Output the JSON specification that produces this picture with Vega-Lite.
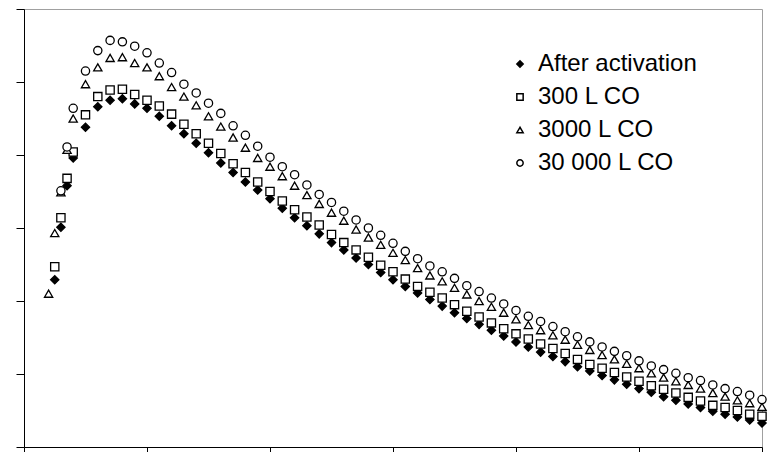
{
  "$schema": "https://vega.github.io/schema/vega-lite/v6.json",
  "width": 738,
  "height": 438,
  "autosize": {"type": "none"},
  "padding": {"left": 24, "top": 9, "right": 7, "bottom": 5},
  "background": "white",
  "config": {
    "view": {"stroke": "#a0a0a0", "strokeWidth": 1},
    "axis": {"labels": false, "grid": false, "title": null, "domainColor": "black", "domainWidth": 1, "tickColor": "black", "tickWidth": 1},
    "legend": {"labelFont": "Liberation Sans", "labelFontSize": 24, "labelColor": "black"}
  },
  "data": {"values": [
    {"series":"After activation","x":2.5,"y":2.29},{"series":"After activation","x":3,"y":3.01},{"series":"After activation","x":3.5,"y":3.58},{"series":"After activation","x":4,"y":3.96},{"series":"After activation","x":5,"y":4.38},{"series":"After activation","x":6,"y":4.66},{"series":"After activation","x":7,"y":4.75},{"series":"After activation","x":8,"y":4.77},{"series":"After activation","x":9,"y":4.70},{"series":"After activation","x":10,"y":4.64},{"series":"After activation","x":11,"y":4.53},{"series":"After activation","x":12,"y":4.40},{"series":"After activation","x":13,"y":4.29},{"series":"After activation","x":14,"y":4.16},{"series":"After activation","x":15,"y":4.03},{"series":"After activation","x":16,"y":3.89},{"series":"After activation","x":17,"y":3.76},{"series":"After activation","x":18,"y":3.63},{"series":"After activation","x":19,"y":3.52},{"series":"After activation","x":20,"y":3.40},{"series":"After activation","x":21,"y":3.27},{"series":"After activation","x":22,"y":3.14},{"series":"After activation","x":23,"y":3.03},{"series":"After activation","x":24,"y":2.92},{"series":"After activation","x":25,"y":2.80},{"series":"After activation","x":26,"y":2.70},{"series":"After activation","x":27,"y":2.59},{"series":"After activation","x":28,"y":2.50},{"series":"After activation","x":29,"y":2.39},{"series":"After activation","x":30,"y":2.29},{"series":"After activation","x":31,"y":2.20},{"series":"After activation","x":32,"y":2.11},{"series":"After activation","x":33,"y":2.02},{"series":"After activation","x":34,"y":1.93},{"series":"After activation","x":35,"y":1.84},{"series":"After activation","x":36,"y":1.76},{"series":"After activation","x":37,"y":1.68},{"series":"After activation","x":38,"y":1.60},{"series":"After activation","x":39,"y":1.52},{"series":"After activation","x":40,"y":1.44},{"series":"After activation","x":41,"y":1.37},{"series":"After activation","x":42,"y":1.30},{"series":"After activation","x":43,"y":1.24},{"series":"After activation","x":44,"y":1.17},{"series":"After activation","x":45,"y":1.10},{"series":"After activation","x":46,"y":1.04},{"series":"After activation","x":47,"y":0.98},{"series":"After activation","x":48,"y":0.92},{"series":"After activation","x":49,"y":0.86},{"series":"After activation","x":50,"y":0.80},{"series":"After activation","x":51,"y":0.75},{"series":"After activation","x":52,"y":0.69},{"series":"After activation","x":53,"y":0.64},{"series":"After activation","x":54,"y":0.59},{"series":"After activation","x":55,"y":0.54},{"series":"After activation","x":56,"y":0.49},{"series":"After activation","x":57,"y":0.45},{"series":"After activation","x":58,"y":0.41},{"series":"After activation","x":59,"y":0.37},{"series":"After activation","x":60,"y":0.33},
    {"series":"300 L CO","x":2.5,"y":2.47},{"series":"300 L CO","x":3,"y":3.14},{"series":"300 L CO","x":3.5,"y":3.68},{"series":"300 L CO","x":4,"y":4.04},{"series":"300 L CO","x":5,"y":4.55},{"series":"300 L CO","x":6,"y":4.80},{"series":"300 L CO","x":7,"y":4.89},{"series":"300 L CO","x":8,"y":4.90},{"series":"300 L CO","x":9,"y":4.83},{"series":"300 L CO","x":10,"y":4.75},{"series":"300 L CO","x":11,"y":4.67},{"series":"300 L CO","x":12,"y":4.56},{"series":"300 L CO","x":13,"y":4.42},{"series":"300 L CO","x":14,"y":4.29},{"series":"300 L CO","x":15,"y":4.16},{"series":"300 L CO","x":16,"y":4.02},{"series":"300 L CO","x":17,"y":3.88},{"series":"300 L CO","x":18,"y":3.76},{"series":"300 L CO","x":19,"y":3.63},{"series":"300 L CO","x":20,"y":3.50},{"series":"300 L CO","x":21,"y":3.37},{"series":"300 L CO","x":22,"y":3.25},{"series":"300 L CO","x":23,"y":3.15},{"series":"300 L CO","x":24,"y":3.04},{"series":"300 L CO","x":25,"y":2.91},{"series":"300 L CO","x":26,"y":2.80},{"series":"300 L CO","x":27,"y":2.70},{"series":"300 L CO","x":28,"y":2.60},{"series":"300 L CO","x":29,"y":2.49},{"series":"300 L CO","x":30,"y":2.40},{"series":"300 L CO","x":31,"y":2.30},{"series":"300 L CO","x":32,"y":2.20},{"series":"300 L CO","x":33,"y":2.12},{"series":"300 L CO","x":34,"y":2.04},{"series":"300 L CO","x":35,"y":1.95},{"series":"300 L CO","x":36,"y":1.86},{"series":"300 L CO","x":37,"y":1.78},{"series":"300 L CO","x":38,"y":1.70},{"series":"300 L CO","x":39,"y":1.62},{"series":"300 L CO","x":40,"y":1.55},{"series":"300 L CO","x":41,"y":1.48},{"series":"300 L CO","x":42,"y":1.41},{"series":"300 L CO","x":43,"y":1.35},{"series":"300 L CO","x":44,"y":1.28},{"series":"300 L CO","x":45,"y":1.20},{"series":"300 L CO","x":46,"y":1.13},{"series":"300 L CO","x":47,"y":1.08},{"series":"300 L CO","x":48,"y":1.02},{"series":"300 L CO","x":49,"y":0.96},{"series":"300 L CO","x":50,"y":0.90},{"series":"300 L CO","x":51,"y":0.84},{"series":"300 L CO","x":52,"y":0.79},{"series":"300 L CO","x":53,"y":0.74},{"series":"300 L CO","x":54,"y":0.68},{"series":"300 L CO","x":55,"y":0.63},{"series":"300 L CO","x":56,"y":0.57},{"series":"300 L CO","x":57,"y":0.54},{"series":"300 L CO","x":58,"y":0.50},{"series":"300 L CO","x":59,"y":0.45},{"series":"300 L CO","x":60,"y":0.42},
    {"series":"3000 L CO","x":2,"y":2.10},{"series":"3000 L CO","x":2.5,"y":2.93},{"series":"3000 L CO","x":3,"y":3.49},{"series":"3000 L CO","x":3.5,"y":4.07},{"series":"3000 L CO","x":4,"y":4.50},{"series":"3000 L CO","x":5,"y":4.97},{"series":"3000 L CO","x":6,"y":5.20},{"series":"3000 L CO","x":7,"y":5.33},{"series":"3000 L CO","x":8,"y":5.34},{"series":"3000 L CO","x":9,"y":5.26},{"series":"3000 L CO","x":10,"y":5.20},{"series":"3000 L CO","x":11,"y":5.08},{"series":"3000 L CO","x":12,"y":4.93},{"series":"3000 L CO","x":13,"y":4.80},{"series":"3000 L CO","x":14,"y":4.68},{"series":"3000 L CO","x":15,"y":4.53},{"series":"3000 L CO","x":16,"y":4.39},{"series":"3000 L CO","x":17,"y":4.24},{"series":"3000 L CO","x":18,"y":4.10},{"series":"3000 L CO","x":19,"y":3.96},{"series":"3000 L CO","x":20,"y":3.84},{"series":"3000 L CO","x":21,"y":3.71},{"series":"3000 L CO","x":22,"y":3.58},{"series":"3000 L CO","x":23,"y":3.45},{"series":"3000 L CO","x":24,"y":3.33},{"series":"3000 L CO","x":25,"y":3.21},{"series":"3000 L CO","x":26,"y":3.10},{"series":"3000 L CO","x":27,"y":2.98},{"series":"3000 L CO","x":28,"y":2.87},{"series":"3000 L CO","x":29,"y":2.77},{"series":"3000 L CO","x":30,"y":2.66},{"series":"3000 L CO","x":31,"y":2.56},{"series":"3000 L CO","x":32,"y":2.45},{"series":"3000 L CO","x":33,"y":2.35},{"series":"3000 L CO","x":34,"y":2.27},{"series":"3000 L CO","x":35,"y":2.18},{"series":"3000 L CO","x":36,"y":2.09},{"series":"3000 L CO","x":37,"y":2.00},{"series":"3000 L CO","x":38,"y":1.92},{"series":"3000 L CO","x":39,"y":1.84},{"series":"3000 L CO","x":40,"y":1.75},{"series":"3000 L CO","x":41,"y":1.67},{"series":"3000 L CO","x":42,"y":1.60},{"series":"3000 L CO","x":43,"y":1.53},{"series":"3000 L CO","x":44,"y":1.47},{"series":"3000 L CO","x":45,"y":1.40},{"series":"3000 L CO","x":46,"y":1.33},{"series":"3000 L CO","x":47,"y":1.26},{"series":"3000 L CO","x":48,"y":1.20},{"series":"3000 L CO","x":49,"y":1.14},{"series":"3000 L CO","x":50,"y":1.08},{"series":"3000 L CO","x":51,"y":1.01},{"series":"3000 L CO","x":52,"y":0.95},{"series":"3000 L CO","x":53,"y":0.90},{"series":"3000 L CO","x":54,"y":0.85},{"series":"3000 L CO","x":55,"y":0.80},{"series":"3000 L CO","x":56,"y":0.74},{"series":"3000 L CO","x":57,"y":0.69},{"series":"3000 L CO","x":58,"y":0.64},{"series":"3000 L CO","x":59,"y":0.60},{"series":"3000 L CO","x":60,"y":0.55},
    {"series":"30 000 L CO","x":3,"y":3.51},{"series":"30 000 L CO","x":3.5,"y":4.11},{"series":"30 000 L CO","x":4,"y":4.64},{"series":"30 000 L CO","x":5,"y":5.15},{"series":"30 000 L CO","x":6,"y":5.43},{"series":"30 000 L CO","x":7,"y":5.57},{"series":"30 000 L CO","x":8,"y":5.55},{"series":"30 000 L CO","x":9,"y":5.49},{"series":"30 000 L CO","x":10,"y":5.40},{"series":"30 000 L CO","x":11,"y":5.26},{"series":"30 000 L CO","x":12,"y":5.13},{"series":"30 000 L CO","x":13,"y":4.97},{"series":"30 000 L CO","x":14,"y":4.85},{"series":"30 000 L CO","x":15,"y":4.71},{"series":"30 000 L CO","x":16,"y":4.57},{"series":"30 000 L CO","x":17,"y":4.40},{"series":"30 000 L CO","x":18,"y":4.27},{"series":"30 000 L CO","x":19,"y":4.12},{"series":"30 000 L CO","x":20,"y":3.97},{"series":"30 000 L CO","x":21,"y":3.84},{"series":"30 000 L CO","x":22,"y":3.73},{"series":"30 000 L CO","x":23,"y":3.59},{"series":"30 000 L CO","x":24,"y":3.46},{"series":"30 000 L CO","x":25,"y":3.35},{"series":"30 000 L CO","x":26,"y":3.23},{"series":"30 000 L CO","x":27,"y":3.11},{"series":"30 000 L CO","x":28,"y":3.00},{"series":"30 000 L CO","x":29,"y":2.90},{"series":"30 000 L CO","x":30,"y":2.79},{"series":"30 000 L CO","x":31,"y":2.68},{"series":"30 000 L CO","x":32,"y":2.58},{"series":"30 000 L CO","x":33,"y":2.48},{"series":"30 000 L CO","x":34,"y":2.40},{"series":"30 000 L CO","x":35,"y":2.31},{"series":"30 000 L CO","x":36,"y":2.21},{"series":"30 000 L CO","x":37,"y":2.13},{"series":"30 000 L CO","x":38,"y":2.04},{"series":"30 000 L CO","x":39,"y":1.96},{"series":"30 000 L CO","x":40,"y":1.87},{"series":"30 000 L CO","x":41,"y":1.79},{"series":"30 000 L CO","x":42,"y":1.72},{"series":"30 000 L CO","x":43,"y":1.65},{"series":"30 000 L CO","x":44,"y":1.58},{"series":"30 000 L CO","x":45,"y":1.51},{"series":"30 000 L CO","x":46,"y":1.44},{"series":"30 000 L CO","x":47,"y":1.37},{"series":"30 000 L CO","x":48,"y":1.31},{"series":"30 000 L CO","x":49,"y":1.25},{"series":"30 000 L CO","x":50,"y":1.18},{"series":"30 000 L CO","x":51,"y":1.11},{"series":"30 000 L CO","x":52,"y":1.06},{"series":"30 000 L CO","x":53,"y":1.01},{"series":"30 000 L CO","x":54,"y":0.95},{"series":"30 000 L CO","x":55,"y":0.91},{"series":"30 000 L CO","x":56,"y":0.85},{"series":"30 000 L CO","x":57,"y":0.80},{"series":"30 000 L CO","x":58,"y":0.76},{"series":"30 000 L CO","x":59,"y":0.71},{"series":"30 000 L CO","x":60,"y":0.65}
  ]},
  "mark": {"type": "point", "filled": true, "stroke": "black", "strokeWidth": 1.3, "opacity": 1, "size": 68, "clip": false},
  "encoding": {
    "x": {"field": "x", "type": "quantitative", "scale": {"domain": [0, 60], "nice": false, "zero": false}, "axis": {"values": [0, 10, 20, 30, 40, 50, 60], "tickSize": 6, "labels": false, "title": null}},
    "y": {"field": "y", "type": "quantitative", "scale": {"domain": [0, 6], "nice": false}, "axis": {"values": [0, 1, 2, 3, 4, 5, 6], "tickSize": 8, "labels": false, "title": null}},
    "shape": {"field": "series", "type": "nominal", "sort": null, "scale": {"domain": ["After activation", "300 L CO", "3000 L CO", "30 000 L CO"], "range": ["diamond", "square", "triangle-up", "circle"]}, "legend": {"title": null, "orient": "none", "legendX": 484, "legendY": 43, "padding": 0, "symbolSize": 40, "labelOffset": 6, "rowPadding": 9, "labelFontSize": 24, "labelFont": "Liberation Sans", "labelColor": "black", "encode": {"symbols": {"update": {"stroke": {"value": "black"}, "strokeWidth": {"value": 1}}}}}},
    "fill": {"field": "series", "type": "nominal", "sort": null, "scale": {"domain": ["After activation", "300 L CO", "3000 L CO", "30 000 L CO"], "range": ["black", "white", "white", "white"]}, "legend": {"title": null, "orient": "none", "legendX": 484, "legendY": 43, "padding": 0, "symbolSize": 40, "labelOffset": 6, "rowPadding": 9, "labelFontSize": 24, "labelFont": "Liberation Sans", "labelColor": "black", "encode": {"symbols": {"update": {"stroke": {"value": "black"}, "strokeWidth": {"value": 1}}}}}}
  }
}
